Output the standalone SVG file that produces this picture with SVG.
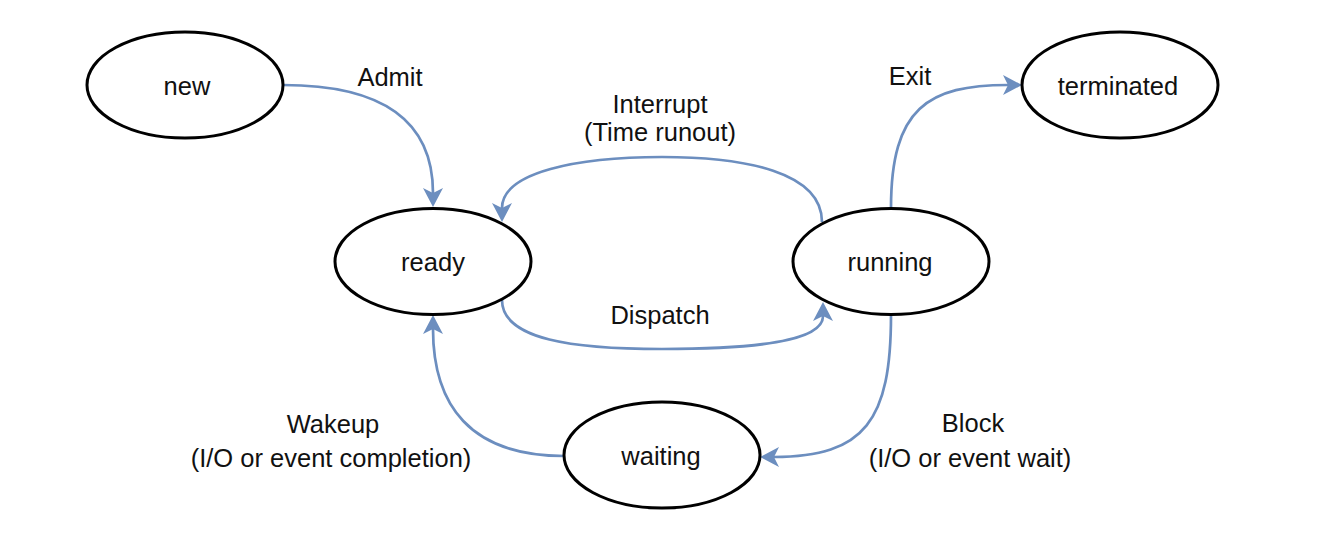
<svg xmlns="http://www.w3.org/2000/svg" width="1322" height="542" viewBox="0 0 1322 542">
  <style>
    .node ellipse { fill: #ffffff; stroke: #000000; stroke-width: 3; }
    .node text, .label { font-family: "Liberation Sans", Arial, Helvetica, sans-serif; font-size: 25.5px; fill: #111111; text-anchor: middle; }
    .edge { fill: none; stroke: #6C8EBF; stroke-width: 2.7; marker-end: url(#arrow); }
  </style>
  <defs>
    <marker id="arrow" markerUnits="userSpaceOnUse" markerWidth="22" markerHeight="22" refX="5" refY="10" orient="auto">
      <path d="M0,0 L19,10 L0,20 L5,10 Z" fill="#6C8EBF" stroke="none"/>
    </marker>
  </defs>
  <rect x="0" y="0" width="1322" height="542" fill="#ffffff"/>

  <g id="connectors">
    <g id="edge-admit">
      <path class="edge" d="M283,85 C 395,85 433,130 433,193"/>
      <text class="label" x="390" y="86">Admit</text>
    </g>
    <g id="edge-interrupt">
      <path class="edge" d="M822,222 C 822,172 745,157 662,157 C 578,157 502,172 502,208"/>
      <text class="label" x="660" y="113">Interrupt</text>
      <text class="label" x="660" y="141">(Time runout)</text>
    </g>
    <g id="edge-dispatch">
      <path class="edge" d="M502,300 C 502,340 575,349 662,349 C 752,349 823,342 823,316"/>
      <text class="label" x="660" y="324">Dispatch</text>
    </g>
    <g id="edge-exit">
      <path class="edge" d="M891,208 C 891,108 928,85 1008,85"/>
      <text class="label" x="910" y="85">Exit</text>
    </g>
    <g id="edge-block">
      <path class="edge" d="M891,315 C 891,420 865,457 774,457"/>
      <text class="label" x="973" y="432">Block</text>
      <text class="label" x="970" y="467">(I/O or event wait)</text>
    </g>
    <g id="edge-wakeup">
      <path class="edge" d="M564,456 C 470,456 433,405 433,329"/>
      <text class="label" x="333" y="433">Wakeup</text>
      <text class="label" x="331" y="467">(I/O or event completion)</text>
    </g>
  </g>

  <g id="node-new" class="node">
    <ellipse cx="185" cy="85" rx="98" ry="53"/>
    <text x="187" y="95">new</text>
  </g>
  <g id="node-ready" class="node">
    <ellipse cx="433" cy="261.5" rx="98" ry="53"/>
    <text x="433" y="271">ready</text>
  </g>
  <g id="node-running" class="node">
    <ellipse cx="891" cy="261.5" rx="98" ry="53"/>
    <text x="890" y="271">running</text>
  </g>
  <g id="node-terminated" class="node">
    <ellipse cx="1120" cy="85" rx="98" ry="53"/>
    <text x="1118" y="95">terminated</text>
  </g>
  <g id="node-waiting" class="node">
    <ellipse cx="662" cy="455" rx="98" ry="53"/>
    <text x="661" y="465">waiting</text>
  </g>
</svg>
